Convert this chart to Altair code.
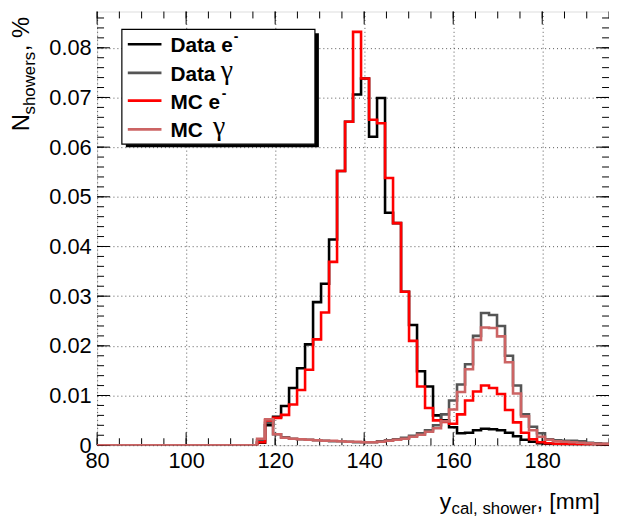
import altair as alt
import numpy as np
import pandas as pd

# ---------------- data (64 bins from 80 to 195 mm; first 20 bins empty) ----------------
X_MIN, X_MAX, N_BINS = 80.0, 195.0, 64
FIRST = 20

data_e = [0.0005, 0.0040, 0.0057, 0.0079, 0.0115, 0.0155, 0.0203, 0.0288, 0.0325, 0.0414,
          0.0552, 0.0651, 0.0706, 0.0738, 0.0621, 0.0699, 0.0468, 0.0447, 0.0309, 0.0242,
          0.0149, 0.0118, 0.0060, 0.0050, 0.0036, 0.0024, 0.0025, 0.0030, 0.0033, 0.0032,
          0.0030, 0.0025, 0.0018, 0.0011, 0.0007, 0.0004, 0.0003, 0.0002, 0.0002, 0.0001,
          0.0001, 0.0001, 0.0001, 0.0000]
data_g = [0.0010, 0.0045, 0.0022, 0.0016, 0.0013, 0.0012, 0.0011, 0.0010, 0.0009, 0.0008,
          0.0008, 0.0007, 0.0006, 0.0006, 0.0006, 0.0008, 0.0010, 0.0012, 0.0015, 0.0019,
          0.0024, 0.0030, 0.0040, 0.0062, 0.0090, 0.0122, 0.0163, 0.0220, 0.0266, 0.0262,
          0.0240, 0.0180, 0.0120, 0.0062, 0.0037, 0.0024, 0.0012, 0.0010, 0.0009, 0.0009,
          0.0008, 0.0005, 0.0004, 0.0003]
mc_e = [0.0006, 0.0050, 0.0055, 0.0061, 0.0082, 0.0111, 0.0152, 0.0213, 0.0267, 0.0369,
        0.0552, 0.0651, 0.0832, 0.0738, 0.0655, 0.0648, 0.0538, 0.0447, 0.0309, 0.0210,
        0.0118, 0.0075, 0.0050, 0.0047, 0.0043, 0.0062, 0.0090, 0.0108, 0.0120, 0.0115,
        0.0103, 0.0071, 0.0046, 0.0025, 0.0012, 0.0006, 0.0004, 0.0003, 0.0002, 0.0002,
        0.0001, 0.0001, 0.0001, 0.0001]
mc_g = [0.0013, 0.0052, 0.0022, 0.0015, 0.0013, 0.0012, 0.0011, 0.0010, 0.0009, 0.0009,
        0.0008, 0.0007, 0.0007, 0.0006, 0.0006, 0.0007, 0.0009, 0.0011, 0.0013, 0.0017,
        0.0021, 0.0027, 0.0034, 0.0048, 0.0072, 0.0107, 0.0153, 0.0212, 0.0237, 0.0236,
        0.0219, 0.0167, 0.0104, 0.0058, 0.0030, 0.0017, 0.0011, 0.0008, 0.0007, 0.0006,
        0.0005, 0.0004, 0.0003, 0.0003]

series_names = ["Data e-", "Data γ", "MC e-", "MC γ"]
series_vals = [data_e, data_g, mc_e, mc_g]
series_colors = ["#000000", "#555555", "#ff0000", "#cc6464"]

x_ticks_major = [80, 100, 120, 140, 160, 180]
y_ticks_major = [0, 0.01, 0.02, 0.03, 0.04, 0.05, 0.06, 0.07, 0.08]
Y_MAX = 0.0873

# ---------------- layout ----------------
W, H = 517, 438
FONT = "Liberation Sans"

edges = np.linspace(X_MIN, X_MAX, N_BINS + 1)
xscale = alt.Scale(domain=[X_MIN, X_MAX], nice=False, zero=False)
yscale = alt.Scale(domain=[0, Y_MAX], nice=False, zero=False)


def hist_df(vals):
    full = [0.0] * FIRST + list(vals)
    xs = list(edges[:-1]) + [edges[-1]]
    ys = full + [full[-1]]
    return pd.DataFrame({"x": xs, "y": ys, "o": list(range(len(xs)))})


# base with axes + grid
base_df = pd.DataFrame({"x": [X_MIN], "y": [0.0]})
axes_layer = alt.Chart(base_df).mark_point(opacity=0).encode(
    x=alt.X("x:Q", scale=xscale, title=None,
            axis=alt.Axis(values=x_ticks_major, ticks=False, domain=False, grid=True,
                          gridDash=[1, 3], gridColor="#555555", gridWidth=1,
                          labelFont=FONT, labelFontSize=22, labelColor="black",
                          labelPadding=6, labelFlush=False)),
    y=alt.Y("y:Q", scale=yscale, title=None,
            axis=alt.Axis(values=y_ticks_major, ticks=False, domain=False, grid=True,
                          gridDash=[1, 3], gridColor="#555555", gridWidth=1,
                          labelFont=FONT, labelFontSize=22, labelColor="black",
                          labelPadding=6, labelFlush=False,
                          labelExpr="datum.value == 0 ? '0' : format(datum.value, '.2f')")),
)

# tick marks (inside frame, all four sides)
xmaj = pd.DataFrame({"t": x_ticks_major})
xmin_t = pd.DataFrame({"t": list(np.arange(80, 195.01, 5))})
ymaj = pd.DataFrame({"t": y_ticks_major})
ymin_t = pd.DataFrame({"t": [round(v, 4) for v in np.arange(0, Y_MAX, 0.002)]})
MAJ, MIN = 13, 7


def xticks(df, L):
    b = alt.Chart(df).mark_rule(color="black", strokeWidth=1)
    return (b.encode(x=alt.X("t:Q", scale=xscale), y=alt.value(H), y2=alt.value(H - L)) +
            b.encode(x=alt.X("t:Q", scale=xscale), y=alt.value(0), y2=alt.value(L)))


def yticks(df, L):
    b = alt.Chart(df).mark_rule(color="black", strokeWidth=1)
    return (b.encode(y=alt.Y("t:Q", scale=yscale), x=alt.value(0), x2=alt.value(L)) +
            b.encode(y=alt.Y("t:Q", scale=yscale), x=alt.value(W), x2=alt.value(W - L)))


tick_layers = xticks(xmaj, MAJ) + xticks(xmin_t, MIN) + yticks(ymaj, MAJ) + yticks(ymin_t, MIN)

# histograms
hist_layers = []
for name, vals, col in zip(series_names, series_vals, series_colors):
    hist_layers.append(
        alt.Chart(hist_df(vals)).mark_line(interpolate="step-after", strokeWidth=2.6,
                                           color=col, clip=True).encode(
            x=alt.X("x:Q", scale=xscale), y=alt.Y("y:Q", scale=yscale), order="o:Q")
    )

# legend (manual, ROOT style)
one = pd.DataFrame({"a": [0]})
LX0, LX1, LY0, LY1 = 25, 220, 18, 134
leg = [
    alt.Chart(one).mark_rect(color="black").encode(
        x=alt.value(LX0 + 4), x2=alt.value(LX1 + 4), y=alt.value(LY0 + 4), y2=alt.value(LY1 + 3)),
    alt.Chart(one).mark_rect(fill="white", stroke="black", strokeWidth=1.2).encode(
        x=alt.value(LX0), x2=alt.value(LX1), y=alt.value(LY0), y2=alt.value(LY1)),
]
entry_y = [33, 62, 90, 119]
for yy, col in zip(entry_y, series_colors):
    leg.append(alt.Chart(one).mark_rule(color=col, strokeWidth=2.6).encode(
        x=alt.value(31), x2=alt.value(65), y=alt.value(yy)))


def txt(s, x, y, size, bold=False, font=FONT, angle=0, align="left", baseline="alphabetic"):
    kw = dict(text=s, font=font, fontSize=size, align=align, baseline=baseline, color="black")
    if bold:
        kw["fontWeight"] = "bold"
    if angle:
        kw["angle"] = angle
    return alt.Chart(one).mark_text(**kw).encode(x=alt.value(x), y=alt.value(y))


leg += [
    txt("Data e", 74, entry_y[0] + 8, 21, bold=True),
    txt("-", 138, entry_y[0] - 3, 14, bold=True),
    txt("Data", 74, entry_y[1] + 8, 21, bold=True),
    txt("γ", 125, entry_y[1] + 6, 28, font="Liberation Serif"),
    txt("MC e", 74, entry_y[2] + 8, 21, bold=True),
    txt("-", 126, entry_y[2] - 3, 14, bold=True),
    txt("MC", 74, entry_y[3] + 8, 21, bold=True),
    txt("γ", 117, entry_y[3] + 6, 28, font="Liberation Serif"),
]

# axis titles (with subscripts)
titles = [
    txt("N", -69, 121, 24, angle=270),
    txt("showers", -63, 104, 17, angle=270),
    txt(", %", -69, 40, 24, angle=270),
    txt("y", 346, 502, 23),
    txt("cal, shower", 358, 508, 17),
    txt(", [mm]", 444, 502, 23),
]

chart = alt.layer(axes_layer, tick_layers, *hist_layers, *leg, *titles).properties(
    width=W, height=H,
    padding={"left": 90, "top": 1, "right": 0, "bottom": 73},
    autosize=alt.AutoSizeParams(type="none"),
).configure_view(stroke="black", strokeWidth=1.2).configure(background="white")

chart.save("out.html", embed_options={"renderer": "svg", "actions": False})
